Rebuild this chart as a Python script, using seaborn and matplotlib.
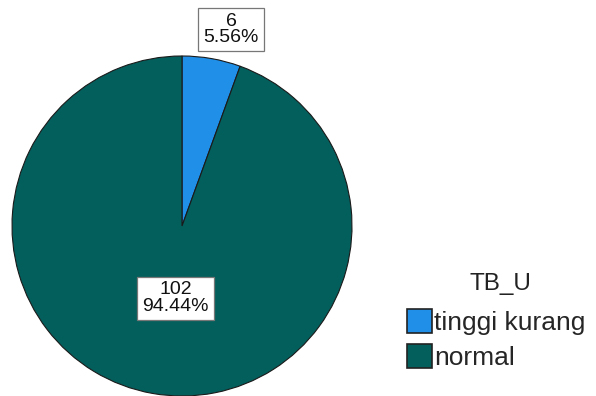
import matplotlib
matplotlib.use('Agg')
import matplotlib.pyplot as plt
import seaborn as sns

# data
categories = ['tinggi kurang', 'normal']
counts = [6, 102]
percents = [5.56, 94.44]
legend_title = 'TB_U'

sns.set_style('white')
plt.rcParams['font.family'] = ['Liberation Sans', 'DejaVu Sans']

colors = sns.color_palette(['#1f8fe8', '#035f5c'])

fig = plt.figure(figsize=(5.96, 3.96), dpi=100)
ax = fig.add_axes([12 / 596, 0, 340 / 596, 340 / 396])

wedges, _ = ax.pie(counts, colors=colors, startangle=90, counterclock=False,
                   radius=1, wedgeprops=dict(edgecolor='#1a1a1a', linewidth=0.8))
ax.set_xlim(-1.0, 1.0)
ax.set_ylim(-1.0, 1.0)
ax.set_aspect('equal')
ax.axis('off')

# value labels
label_pos = [(0.288, 1.155), (-0.038, -0.424)]
for (x, y), c, p in zip(label_pos, counts, percents):
    ax.text(x, y, f'{c}\n{p:.2f}%', ha='center', va='center', fontsize=14,
            linespacing=0.95, color='#111111', clip_on=False,
            bbox=dict(boxstyle='square,pad=0.25', fc='white', ec='#777777', lw=0.9))

# legend, title drawn separately for placement
fig.text(500 / 596, 1 - 284 / 396, legend_title, ha='center', va='center',
         fontsize=17.5, color='#222222')
leg = fig.legend(wedges, categories, loc='upper left',
                 bbox_to_anchor=(407 / 596, 1 - 309 / 396), frameon=False,
                 fontsize=19, handlelength=0.95, handleheight=1.0,
                 handletextpad=0.08, labelspacing=0.35, borderaxespad=0, borderpad=0)
for h in leg.legend_handles:
    h.set_edgecolor('#222222')
    h.set_linewidth(1.2)

fig.savefig('out.png', dpi=100)
